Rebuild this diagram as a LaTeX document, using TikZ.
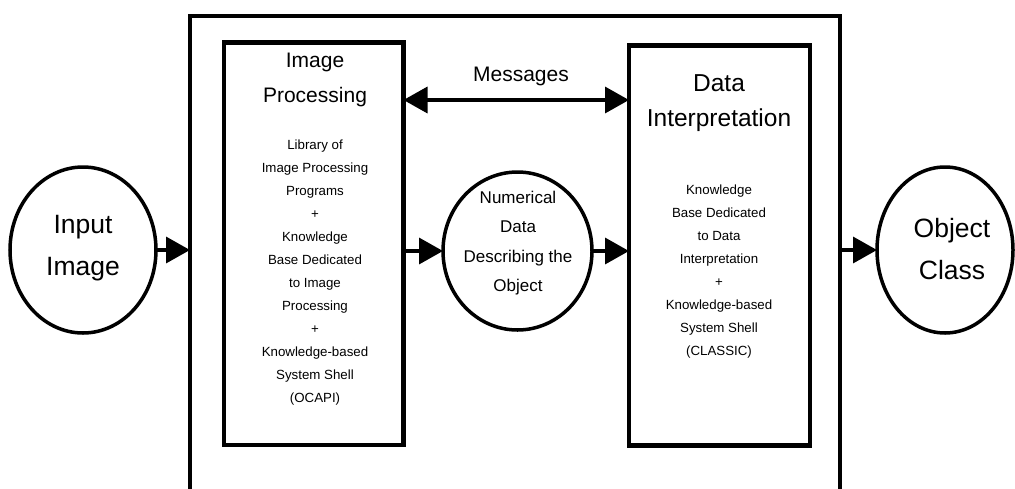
\documentclass[tikz,border=0pt]{standalone}
\usepackage{fontspec}
\setmainfont{Liberation Sans}
\usetikzlibrary{arrows.meta,shapes.geometric}
\tikzset{
  frame/.style={draw, line width=4.5pt, inner sep=0pt, outer sep=0pt},
  blob/.style={draw, ellipse, line width=3.5pt, inner sep=0pt, outer sep=0pt, align=center},
  flow/.style={line width=3.5pt, -{Triangle[length=24pt,width=26pt]}},
  dflow/.style={line width=3.5pt, {Triangle[length=24pt,width=26pt]}-{Triangle[length=24pt,width=26pt]}},
  bigtxt/.style={align=center, font=\fontsize{26.5}{42}\selectfont},
  midtxt/.style={align=center, font=\fontsize{17}{29.5}\selectfont},
  headtxt/.style={align=center, font=\fontsize{21}{35}\selectfont},
  smalltxt/.style={align=center, font=\fontsize{13.3}{23}\selectfont},
}
\begin{document}
\begin{tikzpicture}[x=1pt, y=-1pt]
\useasboundingbox (0,0) rectangle (1015,488);
\clip (0,0) rectangle (1015,488);

% enclosing system frame (runs past the lower edge)
\node[frame, minimum width=650pt, minimum height=504pt] (sys) at (515,268) {};

% the two processing modules
\node[frame, minimum width=179.5pt, minimum height=402.5pt] (ip) at (313.75,243.75) {};
\node[frame, minimum width=181pt, minimum height=400pt] (di) at (719.5,245.5) {};

% module contents
\node[headtxt] (iphead) at (315,80) {Image\\Processing};
\node[smalltxt] (ipbody) at (315,273) {Library of\\Image Processing\\Programs\\+\\Knowledge\\Base Dedicated\\to Image\\Processing\\+\\Knowledge-based\\System Shell\\(OCAPI)};
\node[headtxt, font=\fontsize{24.5}{35}\selectfont] (dihead) at (719,103) {Data\\Interpretation};
\node[smalltxt] (dibody) at (719,272) {Knowledge\\Base Dedicated\\to Data\\Interpretation\\+\\Knowledge-based\\System Shell\\(CLASSIC)};

% data items
\node[blob, minimum width=146pt, minimum height=166pt] (inp) at (83,250) {};
\node[bigtxt] (inptxt) at (83,248) {Input\\Image};
\node[blob, minimum width=149pt, minimum height=158pt] (num) at (517.5,251) {};
\node[midtxt] (numtxt) at (518,243) {Numerical\\Data\\Describing the\\Object};
\node[blob, minimum width=136pt, minimum height=166pt] (obj) at (945,250) {};
\node[bigtxt] (objtxt) at (952,249) {Object\\Class};

% connectors
\draw[flow] (inp.east) -- (inp.east -| sys.west);
\draw[flow] (ip.east |- num.west) -- (num.west);
\draw[flow] (num.east) -- (num.east -| di.west);
\draw[flow] (sys.east |- obj.west) -- (obj.west);

\coordinate (msgline) at (517,100);
\draw[dflow] (ip.east |- msgline) -- (di.west |- msgline);
\node[headtxt] (msg) at (521,76) {Messages};
\end{tikzpicture}
\end{document}
